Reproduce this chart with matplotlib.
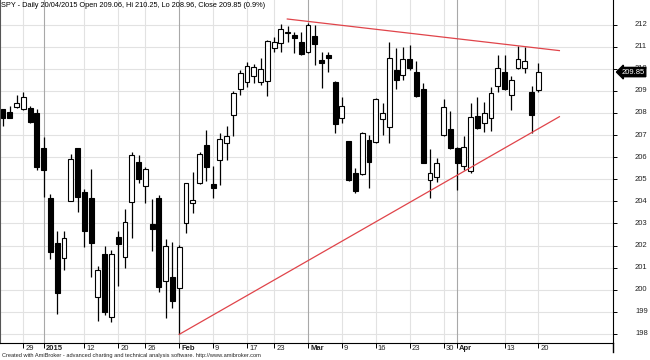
import matplotlib
matplotlib.use('Agg')
import matplotlib.pyplot as plt
import numpy as np
import pandas as pd

plt.rcParams['font.family'] = ['Liberation Sans', 'DejaVu Sans']

# SPY daily candles, 23 Dec 2014 - 20 Apr 2015
holidays = ['2014-12-25', '2015-01-01', '2015-01-19', '2015-02-16', '2015-04-03']
dates = [d for d in pd.bdate_range('2014-12-23', '2015-04-20') if d.strftime('%Y-%m-%d') not in holidays]

opens = [208.17, 208.03, 208.29, 208.19, 208.24, 207.99, 206.40, 204.15, 202.10, 201.43,
         204.02, 206.40, 204.41, 204.14, 199.65, 201.62, 198.78, 202.39, 201.50, 203.99,
         205.80, 204.70, 202.98, 204.14, 200.40, 200.57, 200.07, 203.01, 203.91, 204.85,
         206.55, 204.77, 205.87, 206.64, 207.91, 209.07, 209.42, 209.67, 209.42, 209.46,
         210.93, 211.15, 211.62, 211.53, 211.23, 210.77, 211.48, 210.40, 210.62, 209.42,
         207.76, 206.73, 205.30, 205.24, 206.78, 206.70, 207.71, 207.38, 209.95, 209.72,
         210.43, 209.87, 209.07, 204.97, 205.12, 206.99, 207.26, 206.40, 205.60, 205.39,
         207.86, 207.56, 207.76, 209.22, 209.87, 208.81, 210.02, 210.02, 208.96, 209.06]
highs = [208.20, 208.32, 208.81, 208.96, 208.32, 208.17, 206.90, 204.33, 202.67, 202.67,
         206.14, 206.42, 204.55, 205.45, 201.08, 201.98, 201.80, 202.68, 203.64, 206.22,
         206.10, 205.57, 204.10, 204.29, 202.28, 202.18, 202.03, 204.85, 205.34, 206.25,
         207.25, 205.60, 207.08, 207.43, 209.01, 209.95, 210.31, 210.22, 210.48, 211.30,
         211.45, 212.03, 211.95, 211.68, 211.68, 212.06, 211.98, 210.76, 210.77, 209.46,
         208.74, 206.75, 205.50, 207.15, 207.00, 208.66, 208.44, 211.23, 210.93, 210.97,
         211.08, 210.37, 209.34, 206.36, 205.95, 208.62, 208.10, 206.45, 206.96, 208.44,
         208.74, 208.51, 209.16, 210.62, 210.62, 209.67, 211.03, 210.97, 209.22, 210.25]
lows = [207.41, 207.75, 208.22, 208.15, 207.53, 205.42, 204.21, 201.38, 198.89, 200.89,
        204.00, 203.53, 201.95, 200.59, 198.60, 198.86, 198.56, 200.17, 200.97, 202.36,
        204.85, 203.91, 201.77, 199.91, 198.71, 199.16, 197.98, 202.58, 203.49, 204.78,
        204.94, 204.14, 204.72, 205.86, 206.96, 208.81, 209.16, 209.37, 209.27, 208.77,
        210.77, 210.77, 211.20, 210.70, 210.62, 210.72, 210.17, 209.12, 209.87, 207.11,
        207.56, 204.93, 204.39, 205.19, 204.59, 206.65, 207.00, 206.63, 209.07, 209.49,
        209.95, 208.72, 205.72, 204.14, 204.89, 206.95, 206.36, 204.52, 205.42, 205.27,
        207.27, 207.15, 207.20, 208.96, 209.03, 208.14, 209.98, 209.82, 207.08, 208.96]
closes = [207.76, 207.79, 208.44, 208.74, 207.61, 205.57, 205.42, 201.72, 199.84, 202.33,
          205.90, 204.21, 202.67, 202.10, 200.90, 199.01, 201.62, 202.07, 203.05, 206.10,
          205.00, 205.45, 202.74, 200.14, 201.98, 199.49, 201.92, 204.85, 204.06, 206.14,
          205.56, 204.62, 206.81, 206.95, 208.92, 209.80, 210.11, 210.10, 209.98, 211.26,
          211.20, 211.79, 211.65, 211.38, 210.67, 211.98, 211.12, 210.25, 210.47, 207.50,
          208.32, 204.97, 204.48, 207.11, 205.80, 208.62, 207.99, 210.48, 209.49, 210.43,
          210.02, 208.77, 205.75, 205.27, 205.72, 208.26, 206.40, 205.72, 206.47, 207.83,
          207.31, 207.99, 208.89, 210.02, 209.07, 209.49, 210.43, 210.36, 207.91, 209.85]

# trend lines (bar index, price)
upper_x = [41.95, 82.1]
upper_y = [212.25, 210.82]
lower_x = [26, 82.1]
lower_y = [197.98, 207.83]

price_levels = list(range(198, 213))
tick_dates = ['2014-12-29', '2015-01-02', '2015-01-12', '2015-01-20', '2015-01-26',
              '2015-02-02', '2015-02-09', '2015-02-17', '2015-02-23', '2015-03-02',
              '2015-03-09', '2015-03-16', '2015-03-23', '2015-03-30', '2015-04-01',
              '2015-04-13', '2015-04-20']
tick_labels = ['29', '2015', '12', '20', '26', 'Feb', '9', '17', '23', 'Mar',
               '9', '16', '23', '30', 'Apr', '13', '20']
month_starts = ['2015', 'Feb', 'Mar', 'Apr']

title = 'SPY - Daily 20/04/2015 Open 209.06, Hi 210.25, Lo 208.96, Close 209.85 (0.9%)'
footer = 'Created with AmiBroker - advanced charting and technical analysis software. http://www.amibroker.com'

date_str = [d.strftime('%Y-%m-%d') for d in dates]
x = np.arange(len(opens))
o = np.array(opens); c = np.array(closes)

fig = plt.figure(figsize=(6.5, 3.6), dpi=100)
ax = fig.add_axes([0, 17/360, 613/650, 343/360])

# grid
for lv in price_levels:
    ax.axhline(lv, color='#e2e2e2', lw=0.8, zorder=0)
tick_idx = [date_str.index(d) for d in tick_dates]
for i, lab in zip(tick_idx, tick_labels):
    col = '#a8a8a8' if lab in month_starts else '#e2e2e2'
    ax.axvline(i, color=col, lw=0.8, zorder=0)

# candles
ax.vlines(x, lows, highs, color='black', lw=0.9, zorder=2)
body_col = ['white' if cc > oo else 'black' for oo, cc in zip(o, c)]
heights = np.maximum(np.abs(c - o), 0.02)
ax.bar(x, heights, bottom=np.minimum(o, c), width=0.72, color=body_col,
       edgecolor='black', linewidth=0.8, zorder=3)

ax.plot(upper_x, upper_y, color='#e0444a', lw=0.9, zorder=4)
ax.plot(lower_x, lower_y, color='#e0444a', lw=0.9, zorder=4)

ax.set_xlim(-0.443, 90.01)
ax.set_ylim(197.59, 213.11)

ax.spines['top'].set_visible(False)
ax.spines['left'].set_color('#555555')
ax.spines['right'].set_color('black')
ax.spines['bottom'].set_color('black')

ax.set_xticks(tick_idx)
ax.set_xticklabels([])
ax.tick_params(axis='x', direction='out', length=3.5, width=0.7, color='black')
ax.yaxis.tick_right()
ax.set_yticks(price_levels)
ax.set_yticklabels([])
ax.tick_params(axis='y', direction='out', length=3, width=0.7, color='black')

for i, lab in zip(tick_idx, tick_labels):
    ax.text(i + 0.3, -0.016, lab, transform=ax.get_xaxis_transform(), fontsize=5.5,
            fontweight='bold' if lab in month_starts else 'normal',
            ha='left', va='center', color='#222222')
for lv in price_levels:
    ax.text(1.036, lv, str(lv), transform=ax.get_yaxis_transform(), fontsize=5.5,
            ha='left', va='center', color='#222222', clip_on=False)

ax.text(1.0 + 20/613, closes[-1], '%.2f' % closes[-1], transform=ax.get_yaxis_transform(),
        fontsize=5.5, color='white', ha='center', va='center', zorder=10,
        bbox=dict(boxstyle='larrow,pad=0.15', fc='black', ec='black'))

fig.add_artist(plt.Line2D([613/650, 613/650], [8/360, 17/360], color='black', lw=1))

fig.text(1/650, 1 - 5.5/360, title, fontsize=5.3, ha='left', va='center', color='black')
fig.text(2/650, 1 - 355.5/360, footer, fontsize=4.1, ha='left', va='center', color='#222222')

fig.savefig('out.png', dpi=100)
